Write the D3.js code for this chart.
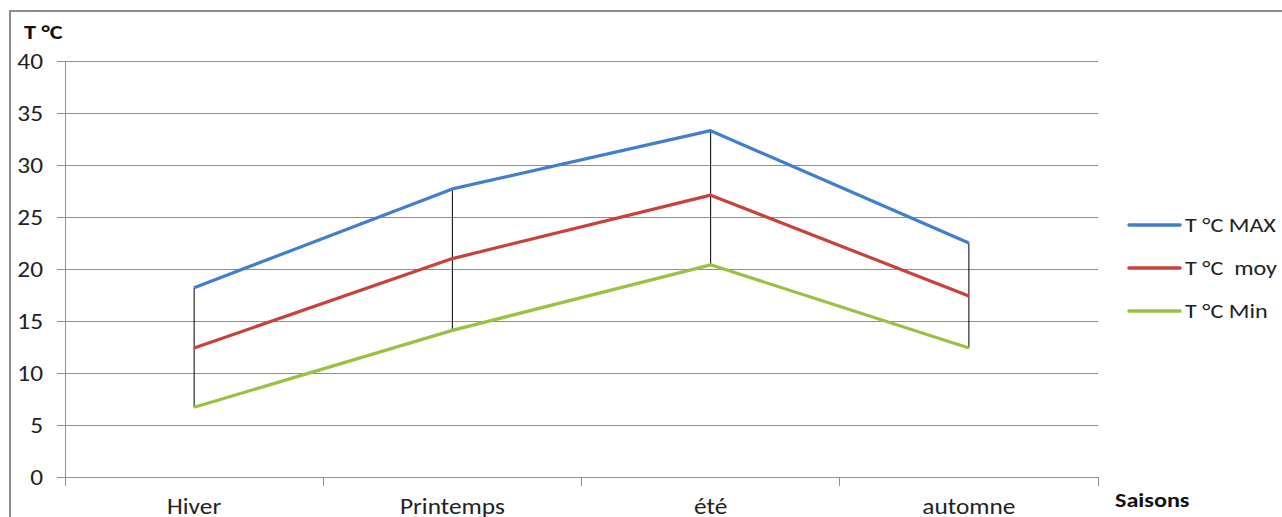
<!DOCTYPE html>
<html>
<head>
<meta charset="utf-8">
<script src="https://cdn.jsdelivr.net/npm/d3@7"></script>
<style>
html,body{margin:0;padding:0;background:#fff;overflow:hidden;}
svg{display:block;font-family:Carlito,Calibri,Lato,"Open Sans",sans-serif;}
</style>
</head>
<body>
<svg id="chart" width="1282" height="517"></svg>
<script>
const categories = ["Hiver", "Printemps", "été", "automne"];
const tMax = [18.2, 27.7, 33.3, 22.5];
const tMoy = [12.4, 21.0, 27.1, 17.4];
const tMin = [6.7, 14.1, 20.4, 12.4];
const yTicks = [0, 5, 10, 15, 20, 25, 30, 35, 40];
const seriesNames = ["T °C MAX", "T °C  moy", "T °C Min"];
const seriesColors = ["#3f7fcb", "#c8413d", "#99c142"];

const FONT = "Carlito,Calibri,Lato,sans-serif";
const STRETCH = 1.15;

const svg = d3.select("#chart");

// outer frame
svg.append("rect").attr("x", 10).attr("y", 11).attr("width", 1300).attr("height", 600)
  .attr("fill", "none").attr("stroke", "#8c8c8c").attr("stroke-width", 2);

const pLeft = 65, pRight = 1098, pTop = 61, pBottom = 477;
const x = d3.scaleBand().domain(categories).range([pLeft, pRight]);
const y = d3.scaleLinear().domain([0, 40]).range([pBottom, pTop]);

// gridlines
svg.append("g").selectAll("line").data(yTicks).join("line")
  .attr("x1", pLeft).attr("x2", pRight)
  .attr("y1", d => y(d)).attr("y2", d => y(d))
  .attr("stroke", "#8e8e8e").attr("stroke-width", 1).attr("shape-rendering", "crispEdges");

// y axis
const yAxis = svg.append("g").attr("transform", `translate(${pLeft},0)`)
  .call(d3.axisLeft(y).tickValues(yTicks).tickSize(8).tickPadding(14));
yAxis.select(".domain").attr("stroke", "#8e8e8e").attr("shape-rendering", "crispEdges");
yAxis.selectAll(".tick line").attr("stroke", "#8e8e8e").attr("shape-rendering", "crispEdges");
yAxis.selectAll("text").attr("font-size", 22).attr("fill", "#222").attr("font-family", FONT).attr("dy", "0.35em");

// x axis
const xAxis = svg.append("g").attr("transform", `translate(0,${pBottom})`)
  .call(d3.axisBottom(x).tickSize(0).tickPadding(0));
xAxis.select(".domain").attr("stroke", "#8e8e8e").attr("shape-rendering", "crispEdges");
xAxis.selectAll("text").attr("font-size", 22).attr("fill", "#222").attr("font-family", FONT)
  .attr("y", 37).attr("dy", 0);
// category boundary ticks
const bounds = categories.map(c => x(c)).concat([x(categories[categories.length - 1]) + x.bandwidth()]);
svg.append("g").selectAll("line").data(bounds).join("line")
  .attr("x1", d => d).attr("x2", d => d).attr("y1", pBottom).attr("y2", pBottom + 9)
  .attr("stroke", "#8e8e8e").attr("shape-rendering", "crispEdges");

const cx = c => x(c) + x.bandwidth() / 2;

// high-low lines
svg.append("g").selectAll("line").data(categories).join("line")
  .attr("x1", (c) => cx(c)).attr("x2", c => cx(c))
  .attr("y1", (c, i) => y(tMax[i])).attr("y2", (c, i) => y(tMin[i]))
  .attr("stroke", "#000").attr("stroke-width", 1);

// series lines
const allSeries = [tMax, tMoy, tMin];
const line = d3.line().x((d, i) => cx(categories[i])).y(d => y(d));
svg.append("g").selectAll("path").data(allSeries).join("path")
  .attr("d", d => line(d)).attr("fill", "none")
  .attr("stroke", (d, i) => seriesColors[i]).attr("stroke-width", 3.2)
  .attr("stroke-linejoin", "round");

// legend
const lg = svg.append("g");
seriesNames.forEach((n, i) => {
  const ly = 225 + i * 43;
  lg.append("line").attr("x1", 1129).attr("x2", 1180).attr("y1", ly).attr("y2", ly)
    .attr("stroke", seriesColors[i]).attr("stroke-width", 3.5).attr("stroke-linecap", "round");
  lg.append("text").attr("x", 1185).attr("y", ly + 7).attr("font-size", 21).attr("fill", "#222")
    .attr("font-family", FONT)
    .attr("xml:space", "preserve").style("white-space", "pre").text(n);
});

// axis titles
svg.append("text").attr("x", 24).attr("y", 39).attr("font-size", 21).attr("font-weight", "bold")
  .attr("font-family", FONT).attr("fill", "#111").text("T °C");
svg.append("text").attr("x", 1115).attr("y", 507).attr("font-size", 21).attr("font-weight", "bold")
  .attr("font-family", FONT).attr("fill", "#111").text("Saisons");

// horizontal stretch of all texts to match the reference's wide rendering
svg.selectAll("text").each(function () {
  const w = this.getComputedTextLength();
  d3.select(this).attr("textLength", w * STRETCH).attr("lengthAdjust", "spacingAndGlyphs");
});
</script>
</body>
</html>
